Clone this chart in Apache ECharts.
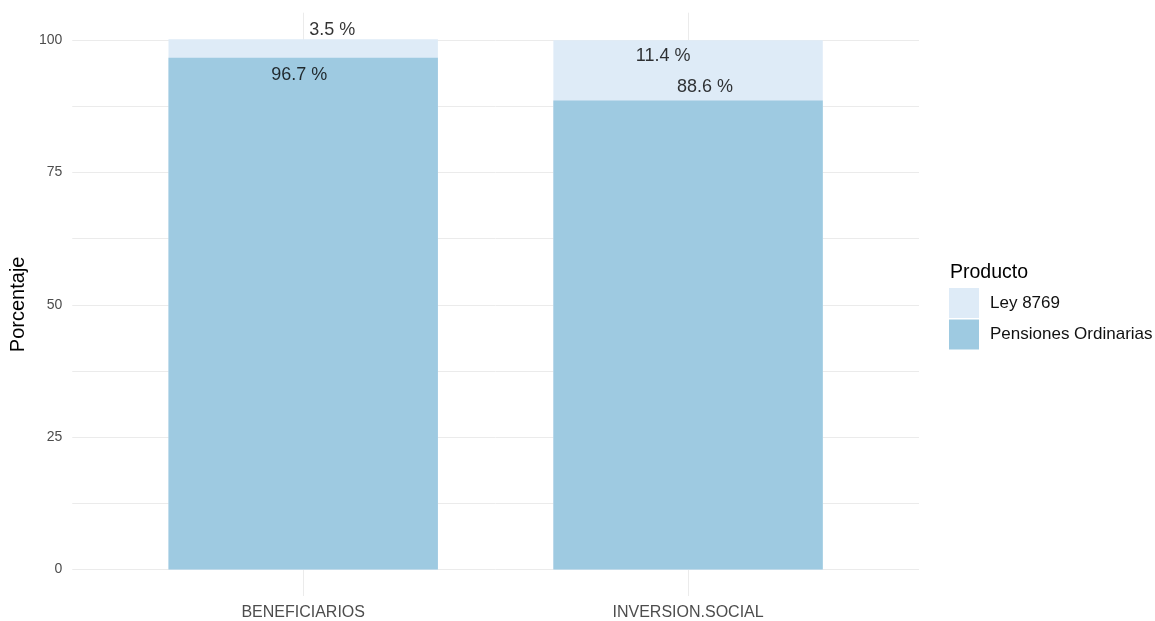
<!DOCTYPE html>
<html>
<head>
<meta charset="utf-8">
<script src="https://cdn.jsdelivr.net/npm/echarts@6/dist/echarts.min.js"></script>
<style>
  html, body { margin: 0; padding: 0; background: #fff; }
  #chart { width: 1155px; height: 621px; }
</style>
</head>
<body>
<div id="chart"></div>
<script>
// datos del grafico
const categorias = ['BENEFICIARIOS', 'INVERSION.SOCIAL'];
const pensiones = [96.7, 88.6];
const ley = [3.5, 11.4];
const yLabels = [0, 25, 50, 75, 100];
// altura (en %) donde ggplot dejo las etiquetas de texto
const posLey = [102.0, 97.0];
const posPensiones = [93.5, 91.1];

const fuente = 'Liberation Sans, Arial, sans-serif';
const grisGrid = '#EBEBEB';

// rango del panel con expansion de 5% como ggplot
const totales = pensiones.map((v, i) => v + ley[i]);
const tope = Math.max(...totales);
const yMin = -tope * 0.05;
const yMax = tope * 1.05;
const gridVals = [0, 12.5, 25, 37.5, 50, 62.5, 75, 87.5, 100];
const xPos = categorias.map((c, i) => i + 1);

// desplazamiento horizontal de cada etiqueta (jitter de la figura original)
const corrLey = [29, -25];
const corrPens = [-4, 17];

const chart = echarts.init(document.getElementById('chart'));

const etiquetas = [];
categorias.forEach((c, i) => {
  etiquetas.push({
    value: [xPos[i], posLey[i]],
    label: { formatter: ley[i].toFixed(1) + ' %', offset: [corrLey[i], 0] }
  });
  etiquetas.push({
    value: [xPos[i], posPensiones[i]],
    label: { formatter: pensiones[i].toFixed(1) + ' %', offset: [corrPens[i], 0] }
  });
});

const option = {
  animation: false,
  backgroundColor: '#ffffff',
  textStyle: { fontFamily: fuente },
  title: {
    text: 'Producto',
    left: 945,
    top: 258,
    textStyle: { fontFamily: fuente, fontSize: 19.5, fontWeight: 'normal', color: '#000' }
  },
  legend: {
    orient: 'vertical',
    left: 944,
    top: 283,
    icon: 'rect',
    itemWidth: 30,
    itemHeight: 30,
    itemGap: 1.5,
    data: ['Ley 8769', 'Pensiones Ordinarias'],
    textStyle: { fontFamily: fuente, fontSize: 17, color: '#111', padding: [5, 0, 0, 6] }
  },
  grid: { left: 71, right: 236, top: 12.7, bottom: 24.5 },
  xAxis: {
    type: 'value',
    min: 0.4,
    max: 2.6,
    axisLine: { show: false },
    axisTick: { show: false, customValues: xPos },
    splitLine: { show: true, lineStyle: { color: grisGrid, width: 1 } },
    axisLabel: {
      customValues: xPos,
      formatter: v => categorias[Math.round(v) - 1] || '',
      color: '#4D4D4D',
      fontSize: 16,
      margin: 9
    }
  },
  yAxis: {
    type: 'value',
    min: yMin,
    max: yMax,
    name: 'Porcentaje',
    nameLocation: 'middle',
    nameGap: 44,
    nameTextStyle: { fontFamily: fuente, fontSize: 20, color: '#000' },
    axisLine: { show: false },
    axisTick: { show: false, customValues: gridVals },
    splitLine: { show: true, lineStyle: { color: grisGrid, width: 1 } },
    axisLabel: {
      customValues: yLabels,
      color: '#4D4D4D',
      fontSize: 14,
      margin: 10
    }
  },
  series: [
    {
      // la barra clara llega al total (pensiones + ley)
      name: 'Ley 8769',
      type: 'bar',
      barWidth: '70%',
      barGap: '-100%',
      itemStyle: { color: '#DEEBF7' },
      data: totales.map((v, i) => [xPos[i], v])
    },
    {
      name: 'Pensiones Ordinarias',
      type: 'bar',
      barWidth: '70%',
      barGap: '-100%',
      itemStyle: { color: '#9ECAE1' },
      data: pensiones.map((v, i) => [xPos[i], v])
    },
    {
      name: 'etiquetas',
      type: 'scatter',
      symbolSize: 0,
      z: 5,
      silent: true,
      label: {
        show: true,
        position: 'inside',
        fontFamily: fuente,
        fontSize: 18,
        color: '#000'
      },
      data: etiquetas
    }
  ]
};

chart.setOption(option);
</script>
</body>
</html>
